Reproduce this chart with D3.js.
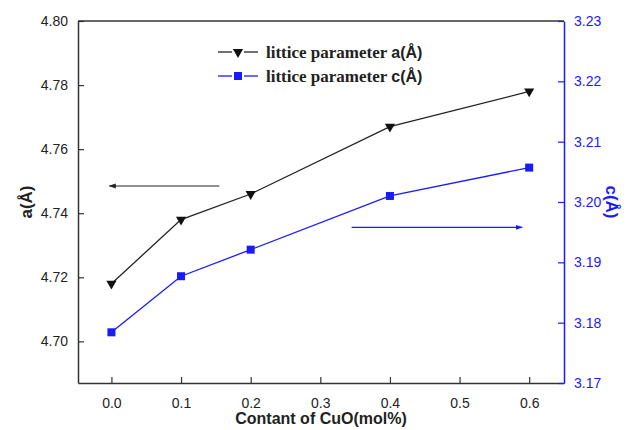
<!DOCTYPE html>
<html>
<head>
<meta charset="utf-8">
<script src="https://cdn.jsdelivr.net/npm/d3@7"></script>
<style>
  body { margin: 0; background: #fff; }
  text { font-family: Arial, "Liberation Sans", sans-serif; }
</style>
</head>
<body>
<script>
// CuO content (mol%)
let xs = [0.0, 0.1, 0.2, 0.4, 0.6];
// lattice parameters
let aVals = [4.718, 4.738, 4.746, 4.767, 4.778];
let cVals = [3.1784, 3.1877, 3.1921, 3.2010, 3.2057];
let xTicks = [0.0, 0.1, 0.2, 0.3, 0.4, 0.5, 0.6];
let aTicks = [4.70, 4.72, 4.74, 4.76, 4.78, 4.80];
let cTicks = [3.17, 3.18, 3.19, 3.20, 3.21, 3.22, 3.23];

let width = 630, height = 430;
let m = { left: 78, right: 66, top: 21, bottom: 47 };
let blue = "#1a1aff";

let svg = d3.select("body").append("svg")
    .attr("width", width).attr("height", height);

let x = d3.scaleLinear().domain([-0.048, 0.65]).range([m.left, width - m.right]);
let yA = d3.scaleLinear().domain([4.687, 4.80]).range([height - m.bottom, m.top]);
let yC = d3.scaleLinear().domain([3.17, 3.23]).range([height - m.bottom, m.top]);

// frame top line
svg.append("line")
    .attr("x1", m.left).attr("x2", width - m.right)
    .attr("y1", m.top).attr("y2", m.top)
    .attr("stroke", "#333").attr("stroke-width", 1.5);

// x axis
let gx = svg.append("g")
    .attr("transform", `translate(0,${height - m.bottom})`)
    .call(d3.axisBottom(x).tickValues(xTicks).tickFormat(d3.format(".1f"))
        .tickSizeInner(-6).tickSizeOuter(0).tickPadding(15));
gx.select(".domain").attr("stroke", "#333").attr("stroke-width", 1.5);
gx.selectAll(".tick line").attr("stroke", "#333").attr("stroke-width", 1.2);
gx.selectAll("text").attr("font-size", 14).attr("fill", "#222");

// left axis
let ga = svg.append("g")
    .attr("transform", `translate(${m.left},0)`)
    .call(d3.axisLeft(yA).tickValues(aTicks).tickFormat(d3.format(".2f"))
        .tickSizeInner(-6).tickSizeOuter(0).tickPadding(10));
ga.select(".domain").attr("stroke", "#333").attr("stroke-width", 1.5);
ga.selectAll(".tick line").attr("stroke", "#333").attr("stroke-width", 1.2);
ga.selectAll("text").attr("font-size", 14).attr("fill", "#222");

// right axis
let gc = svg.append("g")
    .attr("transform", `translate(${width - m.right},0)`)
    .call(d3.axisRight(yC).tickValues(cTicks).tickFormat(d3.format(".2f"))
        .tickSizeInner(-6).tickSizeOuter(0).tickPadding(10));
gc.select(".domain").attr("stroke", blue).attr("stroke-width", 1.5);
gc.selectAll(".tick line").attr("stroke", blue).attr("stroke-width", 1.2);
gc.selectAll("text").attr("font-size", 14).attr("fill", blue);

// axis titles
svg.append("text")
    .attr("x", width / 2 + 6).attr("y", 424)
    .attr("text-anchor", "middle").attr("font-size", 16).attr("font-weight", "bold")
    .attr("fill", "#222").text("Contant of CuO(mol%)");
svg.append("text")
    .attr("transform", `translate(32,${(m.top + height - m.bottom) / 2}) rotate(-90)`)
    .attr("text-anchor", "middle").attr("font-size", 17).attr("font-weight", "bold")
    .attr("fill", "#222").text("a(Å)");
svg.append("text")
    .attr("transform", `translate(606,${(m.top + height - m.bottom) / 2}) rotate(90)`)
    .attr("text-anchor", "middle").attr("font-size", 17).attr("font-weight", "bold")
    .attr("fill", blue).text("c(Å)");

// series
let lineA = d3.line().x((d, i) => x(xs[i])).y(d => yA(d));
let lineC = d3.line().x((d, i) => x(xs[i])).y(d => yC(d));

svg.append("path").attr("d", lineA(aVals))
    .attr("fill", "none").attr("stroke", "#222").attr("stroke-width", 1.3);
svg.append("path").attr("d", lineC(cVals))
    .attr("fill", "none").attr("stroke", blue).attr("stroke-width", 1.3);

let tri = d3.symbol().type(d3.symbolTriangle).size(45);
svg.selectAll(".ma").data(aVals).enter().append("path")
    .attr("d", tri)
    .attr("transform", (d, i) => `translate(${x(xs[i])},${yA(d)}) rotate(180)`)
    .attr("fill", "#111");
svg.selectAll(".mc").data(cVals).enter().append("rect")
    .attr("x", (d, i) => x(xs[i]) - 4).attr("y", d => yC(d) - 4)
    .attr("width", 8).attr("height", 8).attr("fill", blue);

// arrows pointing to each axis
svg.append("defs").selectAll("marker").data([["ahK", "#222"], ["ahB", blue]]).enter()
    .append("marker")
    .attr("id", d => d[0]).attr("viewBox", "0 0 10 10")
    .attr("refX", 9).attr("refY", 5)
    .attr("markerWidth", 6).attr("markerHeight", 6)
    .attr("orient", "auto")
    .append("path").attr("d", "M0,1.5L10,5L0,8.5Z").attr("fill", d => d[1]);

svg.append("line")
    .attr("x1", x(0.155)).attr("x2", x(-0.003))
    .attr("y1", yA(4.7485)).attr("y2", yA(4.7485))
    .attr("stroke", "#222").attr("stroke-width", 1.2).attr("marker-end", "url(#ahK)");
svg.append("line")
    .attr("x1", x(0.345)).attr("x2", x(0.59))
    .attr("y1", yC(3.1958)).attr("y2", yC(3.1958))
    .attr("stroke", blue).attr("stroke-width", 1.2).attr("marker-end", "url(#ahB)");

// legend
let legend = [
    { label: "a(Å)", color: "#222", shape: "tri" },
    { label: "c(Å)", color: blue, shape: "sq" }
];
let lg = svg.append("g").attr("transform", "translate(218,52)");
legend.forEach((d, i) => {
    let g = lg.append("g").attr("transform", `translate(0,${i * 24})`);
    g.append("line").attr("x1", 0).attr("x2", 14).attr("stroke", d.color).attr("stroke-width", 1.3);
    g.append("line").attr("x1", 26).attr("x2", 40).attr("stroke", d.color).attr("stroke-width", 1.3);
    if (d.shape === "tri") {
        g.append("path").attr("d", tri).attr("transform", "translate(20,0) rotate(180)").attr("fill", "#111");
    } else {
        g.append("rect").attr("x", 16).attr("y", -4).attr("width", 8).attr("height", 8).attr("fill", d.color);
    }
    let t = g.append("text").attr("x", 48).attr("y", 6).attr("fill", "#222");
    t.append("tspan").attr("font-family", "'Liberation Serif', 'Times New Roman', serif")
        .attr("font-weight", "bold").attr("font-size", 17).text("littice parameter ");
    t.append("tspan").attr("font-family", "Arial, 'Liberation Sans', sans-serif")
        .attr("font-weight", "bold").attr("font-size", 16).text(d.label);
});
</script>
</body>
</html>
